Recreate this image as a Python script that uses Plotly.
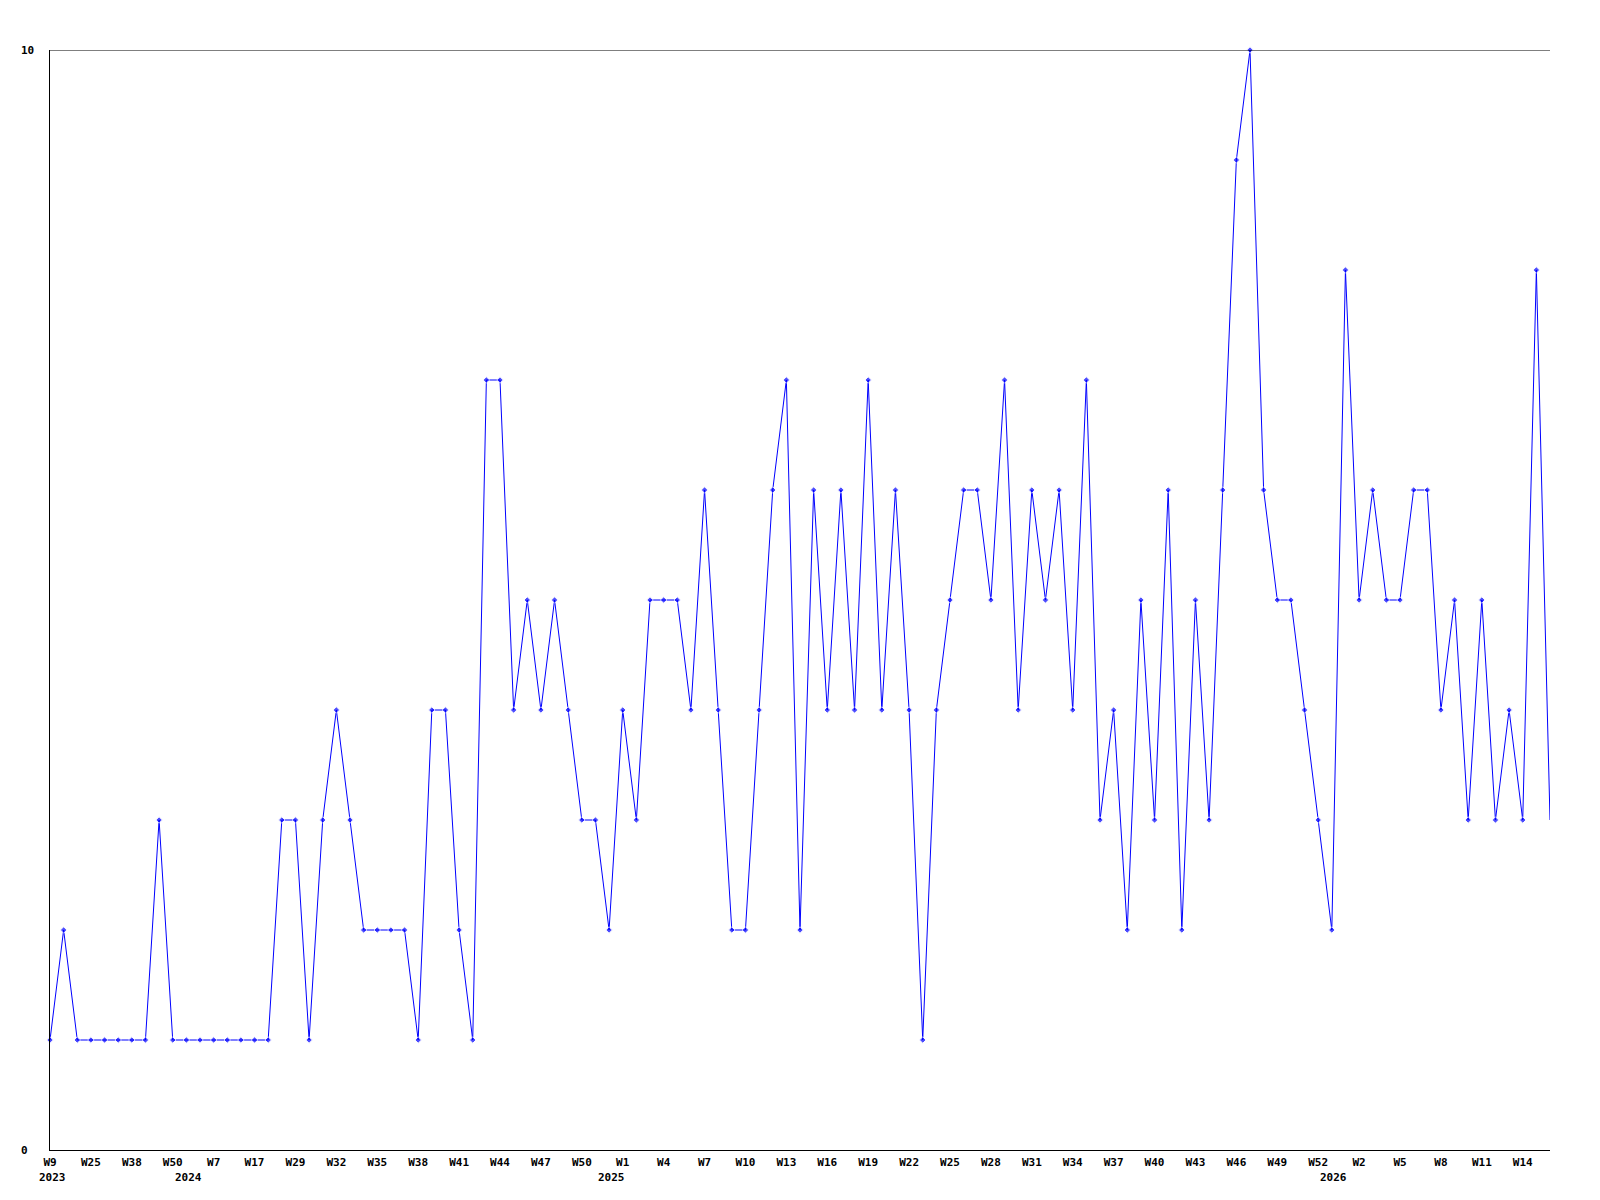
import plotly.graph_objects as go

# Weekly counts (one point per week sample)
values = [1, 2, 1, 1, 1, 1, 1, 1, 3, 1,
          1, 1, 1, 1, 1, 1, 1, 3, 3, 1,
          3, 4, 3, 2, 2, 2, 2, 1, 4, 4,
          2, 1, 7, 7, 4, 5, 4, 5, 4, 3,
          3, 2, 4, 3, 5, 5, 5, 4, 6, 4,
          2, 2, 4, 6, 7, 2, 6, 4, 6, 4,
          7, 4, 6, 4, 1, 4, 5, 6, 6, 5,
          7, 4, 6, 5, 6, 4, 7, 3, 4, 2,
          5, 3, 6, 2, 5, 3, 6, 9, 10, 6,
          5, 5, 4, 3, 2, 8, 5, 6, 5, 5,
          6, 6, 4, 5, 3, 5, 3, 4, 3, 8,
          3]

# Week tick labels, shown on every third point
tick_labels = ["W9", "W25", "W38", "W50", "W7", "W17", "W29", "W32", "W35", "W38",
               "W41", "W44", "W47", "W50", "W1", "W4", "W7", "W10", "W13", "W16",
               "W19", "W22", "W25", "W28", "W31", "W34", "W37", "W40", "W43", "W46",
               "W49", "W52", "W2", "W5", "W8", "W11", "W14"]
tick_step = 3

# Year labels and the point index where each year starts
year_labels = ["2023", "2024", "2025", "2026"]
year_start = [0, 10, 41, 94]

y_tick_values = [0, 10]

x = list(range(len(values)))
tickvals = [i * tick_step for i in range(len(tick_labels))]

FONT = "DejaVu Sans Mono"
FS = 11

fig = go.Figure()
fig.add_trace(go.Scatter(
    x=x, y=values, mode="lines+markers",
    line=dict(color="#0000FF", width=1),
    marker=dict(symbol="diamond", size=[5] * (len(values) - 1) + [0], color="#0000FF"),
    cliponaxis=False,
    showlegend=False,
))

annotations = []
for lab, idx in zip(year_labels, year_start):
    annotations.append(dict(
        x=idx, y=0, xref="x", yref="paper", text="<b>%s</b>" % lab,
        showarrow=False, xanchor="center", yanchor="top", yshift=-20, xshift=2,
        font=dict(family=FONT, size=FS, color="black"), borderpad=0,
    ))
for v in y_tick_values:
    annotations.append(dict(
        x=-0.02, y=v, xref="paper", yref="y", text="<b>%d</b>" % v,
        showarrow=False, xanchor="left", yanchor="middle",
        font=dict(family=FONT, size=FS, color="black"), borderpad=0,
    ))

fig.update_layout(
    width=1592, height=1192,
    margin=dict(l=42, r=50, t=42, b=50),
    paper_bgcolor="white", plot_bgcolor="white",
    font=dict(family=FONT, size=FS, color="black"),
    xaxis=dict(
        range=[0, len(values) - 1], tickmode="array", tickvals=tickvals,
        ticktext=["<b>%s</b>" % t for t in tick_labels],
        showgrid=False, zeroline=False, showline=True, linecolor="black",
        linewidth=1, ticks="", ticklabelstandoff=2,
        tickfont=dict(family=FONT, size=FS, color="black"),
    ),
    yaxis=dict(
        range=[0, 10], tickmode="array", tickvals=y_tick_values,
        showticklabels=False, showgrid=False,
        zeroline=False, showline=True, linecolor="black", linewidth=1, ticks="",
    ),
    shapes=[dict(type="line", xref="paper", yref="y", x0=0, x1=1,
                 y0=y_tick_values[-1], y1=y_tick_values[-1],
                 line=dict(color="black", width=1))],
    annotations=annotations,
)

fig.write_html("out.html")
